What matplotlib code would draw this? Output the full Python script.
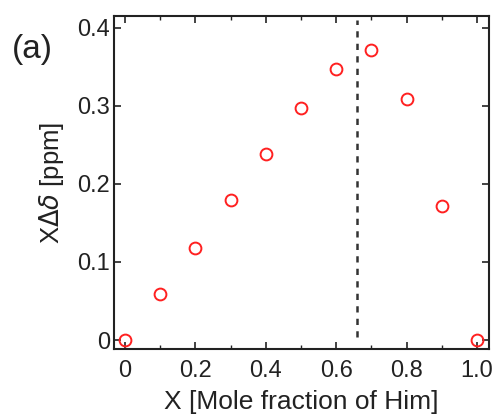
import matplotlib
matplotlib.use("Agg")
import matplotlib.pyplot as plt
from matplotlib.ticker import MultipleLocator, FixedLocator

x_vals = [0.0, 0.1, 0.2, 0.3, 0.4, 0.5, 0.6, 0.7, 0.8, 0.9, 1.0]
y_vals = [0.0, 0.059, 0.118, 0.179, 0.238, 0.297, 0.347, 0.372, 0.309, 0.172, 0.0]
x_dash = 0.66
x_ticks = [0, 0.2, 0.4, 0.6, 0.8, 1.0]
x_ticklabels = ["0", "0.2", "0.4", "0.6", "0.8", "1.0"]
y_ticks = [0, 0.1, 0.2, 0.3, 0.4]
y_ticklabels = ["0", "0.1", "0.2", "0.3", "0.4"]

plt.rcParams['font.family'] = ['Liberation Sans', 'DejaVu Sans']

fig = plt.figure(figsize=(4.96, 4.16), dpi=100)
ax = fig.add_axes([0.2298, 0.161, 0.7562, 0.8005])

ax.plot([x_dash, x_dash], [0.004, 0.41], color='#333333', lw=1.8, ls=(0, (2.5, 2.5)))
ax.plot(x_vals, y_vals, ls='none', marker='o', markersize=8.5, mfc='none',
        mec='#ff2020', mew=1.4)

ax.set_xlim(-0.031, 1.034)
ax.set_ylim(-0.0115, 0.415)
ax.set_xticks(x_ticks)
ax.set_xticklabels(x_ticklabels)
ax.set_yticks(y_ticks)
ax.set_yticklabels(y_ticklabels)
ax.xaxis.set_minor_locator(MultipleLocator(0.1))
ax.tick_params(which='both', direction='in', top=True, right=True, labelsize=17, colors='#222222')
ax.tick_params(which='major', length=5, width=1.2)
ax.tick_params(axis='x', which='major', pad=8)
ax.tick_params(axis='y', which='major', pad=3)
ax.tick_params(which='minor', length=3, width=1.0)
for s in ax.spines.values():
    s.set_linewidth(1.5)
    s.set_color('#222222')

ax.set_xlabel("X [Mole fraction of Him]", fontsize=19, color='#222222', labelpad=6)
ax.set_ylabel("X$\\Delta\\delta$ [ppm]", fontsize=18.5, color='#222222', labelpad=8)
fig.text(0.024, 0.86, "(a)", fontsize=24, color='#222222')

fig.savefig("out.png", dpi=100)
